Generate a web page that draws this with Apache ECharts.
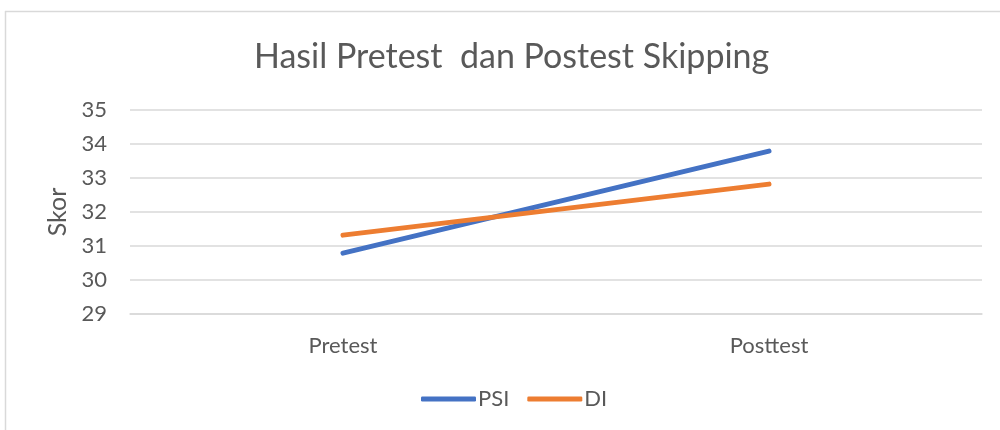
<!DOCTYPE html>
<html><head><meta charset="utf-8">
<script src="https://cdn.jsdelivr.net/npm/echarts@6/dist/echarts.min.js"></script>
<style>html,body{margin:0;padding:0;background:#fff}#c{width:1000px;height:430px}</style>
</head><body><div id="c"></div>
<script>
const categories = ['Pretest', 'Posttest'];
const psi = [30.79, 33.79];
const di = [31.32, 32.82];
const titleText = 'Hasil Pretest  dan Postest Skipping';
const yTitle = 'Skor';

const FONT = 'Lato';
const chart = echarts.init(document.getElementById('c'));
chart.setOption({
  animation: false,
  backgroundColor: '#fff',
  title: {
    text: titleText, left: 249, top: 35,
    textStyle: { fontFamily: FONT, fontSize: 34, fontWeight: 'normal', color: '#595959' }
  },
  graphic: [
    { type: 'line', shape: { x1: 5, y1: 11.5, x2: 1000, y2: 11.5 }, style: { stroke: '#d9d9d9', lineWidth: 1.5 } },
    { type: 'line', shape: { x1: 5.5, y1: 11, x2: 5.5, y2: 430 }, style: { stroke: '#d9d9d9', lineWidth: 1.5 } }
  ],
  legend: {
    bottom: 15, left: 416, itemGap: 18, icon: 'roundRect', itemWidth: 55, itemHeight: 5,
    textStyle: { fontFamily: FONT, fontSize: 22, color: '#595959', padding: [0, 0, 0, -3] },
    data: ['PSI', 'DI']
  },
  grid: { left: 130, right: 18, top: 110, bottom: 116 },
  xAxis: {
    type: 'category', data: categories, boundaryGap: true,
    axisLine: { lineStyle: { color: '#d9d9d9', width: 1.5 } },
    axisTick: { show: false },
    axisLabel: { fontFamily: FONT, fontSize: 22, color: '#595959', margin: 21 }
  },
  yAxis: {
    type: 'value', min: 29, max: 35, interval: 1,
    name: yTitle, nameLocation: 'middle', nameGap: 57, nameRotate: 90,
    nameTextStyle: { fontFamily: FONT, fontSize: 25, color: '#595959' },
    axisLine: { show: false }, axisTick: { show: false },
    axisLabel: { fontFamily: FONT, fontSize: 22, color: '#595959', margin: 23 },
    splitLine: { lineStyle: { color: '#d9d9d9', width: 1.5 } }
  },
  series: [
    { name: 'PSI', type: 'line', data: psi, symbol: 'none', lineStyle: { color: '#4472C4', width: 5, cap: 'round' }, itemStyle: { color: '#4472C4' } },
    { name: 'DI', type: 'line', data: di, symbol: 'none', lineStyle: { color: '#ED7D31', width: 5, cap: 'round' }, itemStyle: { color: '#ED7D31' } }
  ]
});
</script></body></html>
